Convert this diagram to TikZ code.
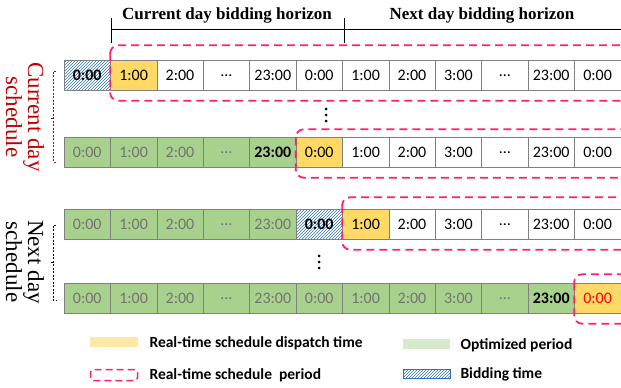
\documentclass[tikz,border=0pt]{standalone}
\usepackage{fontspec}
\setsansfont{Carlito}
\newfontfamily\labelfont{Liberation Serif}
\usetikzlibrary{patterns}
\definecolor{dispyellow}{HTML}{FFD966}
\definecolor{optgreen}{HTML}{A9D18E}
\definecolor{rtred}{HTML}{FF1F6E}
\definecolor{bidblue}{HTML}{2E75B6}
\definecolor{labred}{HTML}{C00000}
\newcommand\cellfont{\sffamily\fontsize{16}{18}\selectfont}
\begin{document}
\begin{tikzpicture}[x=1pt,y=-1pt,
    cell/.style={draw=black!50, minimum width=46.4, minimum height=30, inner sep=0, font=\cellfont},
    bidcell/.style={pattern=north east lines, pattern color=bidblue, font=\cellfont\bfseries},
    dispcell/.style={fill=dispyellow},
    freecell/.style={fill=white},
    optcell/.style={fill=optgreen, text=black!55},
    optbold/.style={fill=optgreen, font=\cellfont\bfseries},
    lastcell/.style={fill=dispyellow, text=red},
    rtbox/.style={draw=rtred, line width=1.8, dash pattern=on 8pt off 5pt, rounded corners=8},
    brk/.style={dashed, dash pattern=on 2pt off 1.5pt, line width=0.5},
    horizon/.style={font=\labelfont\bfseries\fontsize{17}{19}\selectfont},
    legtext/.style={anchor=west, font=\sffamily\bfseries\fontsize{15.5}{17}\selectfont}]
\useasboundingbox (0,0) rectangle (621,388);

% bidding horizons
\node[horizon] (curhor) at (227,15) {Current day bidding horizon};
\node[horizon] (nxthor) at (482,15) {Next day bidding horizon};
\coordinate (hl) at (111,29);
\coordinate (hr) at (625,29);
\draw[line width=0.9] (hl) -- (hr);
\draw[line width=0.9] (111,18) -- (111,43);
\draw[line width=0.9] (344,18) -- (344,43);

% current day schedule
\foreach \t/\s [count=\i] in {0:00/bidcell, 1:00/dispcell, 2:00/freecell, \dots/freecell, 23:00/freecell, 0:00/freecell,
    1:00/freecell, 2:00/freecell, 3:00/freecell, \dots/freecell, 23:00/freecell, 0:00/freecell}
  \node[cell,\s] (r1-\i) at ({40.8+46.4*\i},75.5) {\t};
\foreach \t/\s [count=\i] in {0:00/optcell, 1:00/optcell, 2:00/optcell, \dots/optcell, 23:00/optbold, 0:00/dispcell,
    1:00/freecell, 2:00/freecell, 3:00/freecell, \dots/freecell, 23:00/freecell, 0:00/freecell}
  \node[cell,\s] (r2-\i) at ({40.8+46.4*\i},152.5) {\t};

% next day schedule
\foreach \t/\s [count=\i] in {0:00/optcell, 1:00/optcell, 2:00/optcell, \dots/optcell, 23:00/optcell, 0:00/bidcell,
    1:00/dispcell, 2:00/freecell, 3:00/freecell, \dots/freecell, 23:00/freecell, 0:00/freecell}
  \node[cell,\s] (r3-\i) at ({40.8+46.4*\i},224.5) {\t};
\foreach \t/\s [count=\i] in {0:00/optcell, 1:00/optcell, 2:00/optcell, \dots/optcell, 23:00/optcell, 0:00/optcell,
    1:00/optcell, 2:00/optcell, 3:00/optcell, \dots/optcell, 23:00/optbold, 0:00/lastcell}
  \node[cell,\s] (r4-\i) at ({40.8+46.4*\i},298.5) {\t};

% real-time schedule periods
\draw[rtbox] ([yshift=15]r1-2.north west) rectangle ([xshift=10,yshift=-10]r1-12.south east);
\draw[rtbox] ([yshift=8]r2-6.north west) rectangle ([xshift=10,yshift=-10]r2-12.south east);
\draw[rtbox] ([yshift=12]r3-7.north west) rectangle ([xshift=10,yshift=-10]r3-12.south east);
\draw[rtbox] ([yshift=9]r4-12.north west) rectangle ([xshift=10,yshift=-10]r4-12.south east);

% vertical dots
\foreach \d in {0,6,12} {
  \fill (326,109+\d) circle (1.5);
  \fill (319,256+\d) circle (1.5);
}

% schedule labels
\node[rotate=-90, align=center, text=labred, font=\labelfont\fontsize{23}{17}\selectfont] (curlab) at (25,117) {Current day\\schedule};
\node[rotate=-90, align=center, font=\labelfont\fontsize{23}{17}\selectfont] (nxtlab) at (25,262) {Next day\\schedule};
\draw[brk, draw=labred] (56,71) -- (53,71) -- (53,162) -- (56,162);
\draw[brk, draw=labred] (53,118) -- (50,118);
\draw[brk] (56,225) -- (53,225) -- (53,300) -- (56,300);
\draw[brk] (53,262) -- (50,262);

% legend
\node[fill=dispyellow!60, minimum width=48, minimum height=10, inner sep=0] (k1) at (114,342) {};
\node[legtext] (l1) at (146,343) {Real-time schedule dispatch time};
\node[fill=optgreen!45, minimum width=47, minimum height=10, inner sep=0] (k2) at (426.5,344) {};
\node[legtext] (l2) at (457,345) {Optimized period};
\node[rtbox, rounded corners=3, minimum width=47, minimum height=11, inner sep=0, line width=1.5, dash pattern=on 7pt off 4pt] (k3) at (114,375) {};
\node[legtext] (l3) at (146,375) {Real-time schedule \ period};
\node[draw=bidblue, pattern=north east lines, pattern color=bidblue, minimum width=47, minimum height=9, inner sep=0] (k4) at (426.5,373.5) {};
\node[legtext] (l4) at (457,374) {Bidding time};
\end{tikzpicture}
\end{document}
